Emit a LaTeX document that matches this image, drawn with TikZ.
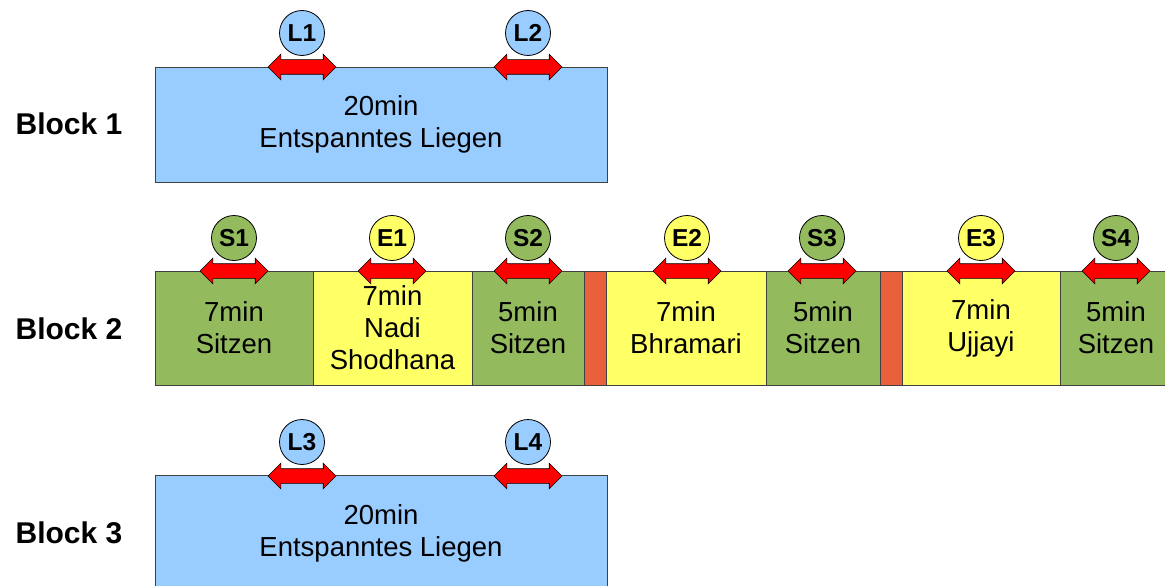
\documentclass[tikz,border=0pt]{standalone}
\usepackage{fontspec}
\setmainfont{Liberation Sans}
\usetikzlibrary{shapes.arrows}
\definecolor{liegblue}{HTML}{99CCFF}
\definecolor{sitzgreen}{HTML}{93BB5E}
\definecolor{atemyellow}{HTML}{FFFF66}
\definecolor{pausered}{HTML}{E8603C}
\tikzset{
    x=1pt, y=-1pt,
    cell/.style={draw=black!75, line width=0.8pt, minimum height=114pt, inner sep=0pt, align=center, font=\fontsize{27.5}{32}\selectfont},
    liegen/.style={cell, fill=liegblue, minimum width=452pt, minimum height=115pt},
    sitzen/.style={cell, fill=sitzgreen},
    atem/.style={cell, fill=atemyellow},
    pausebar/.style={cell, fill=pausered, minimum width=22pt},
    badge/.style={circle, draw=black, line width=0.8pt, minimum size=45pt, inner sep=0pt, font=\bfseries\fontsize{24.5}{28}\selectfont},
    wechsel/.style={double arrow, draw=black, fill=red, line width=0.6pt, minimum height=68pt, inner xsep=0pt, inner ysep=7pt, double arrow head extend=5.5pt},
    blocklabel/.style={font=\bfseries\fontsize{30}{36}\selectfont}
}

\begin{document}
\begin{tikzpicture}
\useasboundingbox (0,0) rectangle (1165,586);

% block labels
\node[blocklabel] (b1) at (69,124) {Block 1};
\node[blocklabel] (b2) at (69,329) {Block 2};
\node[blocklabel] (b3) at (69,533) {Block 3};

% block 1
\node[liegen] (lieg1) at (381,124.5) {20min\\Entspanntes Liegen};
\foreach \name/\x in {L1/302, L2/528} {
    \node[badge, fill=liegblue] (\name) at (\x,33) {\name};
    \node[wechsel] (w\name) at (\x,67) {};
}

% block 2
\node[sitzen, minimum width=158pt] (sitz1) at (234,328) {7min\\Sitzen};
\node[atem, minimum width=159pt] (nadi) at (392.5,328) {7min\\Nadi\\Shodhana};
\node[sitzen, minimum width=112pt] (sitz2) at (528,328) {5min\\Sitzen};
\node[pausebar] (pause1) at (595,328) {};
\node[atem, minimum width=160pt] (bhram) at (686,328) {7min\\Bhramari};
\node[sitzen, minimum width=114pt] (sitz3) at (823,328) {5min\\Sitzen};
\node[pausebar] (pause2) at (891,328) {};
\node[atem, minimum width=158pt] (ujjayi) at (981,328) {7min\\Ujjayi};
\node[sitzen, minimum width=112pt] (sitz4) at (1116,328) {5min\\Sitzen};
\foreach \name/\x/\col in {S1/234/sitzgreen, E1/392/atemyellow, S2/528/sitzgreen, E2/687/atemyellow,
                           S3/822/sitzgreen, E3/981/atemyellow, S4/1116/sitzgreen} {
    \node[badge, fill=\col] (\name) at (\x,238) {\name};
    \node[wechsel] (w\name) at (\x,271) {};
}

% block 3
\node[liegen] (lieg3) at (381,533) {20min\\Entspanntes Liegen};
\foreach \name/\x in {L3/302, L4/528} {
    \node[badge, fill=liegblue] (\name) at (\x,442) {\name};
    \node[wechsel] (w\name) at (\x,476) {};
}
\end{tikzpicture}
\end{document}
